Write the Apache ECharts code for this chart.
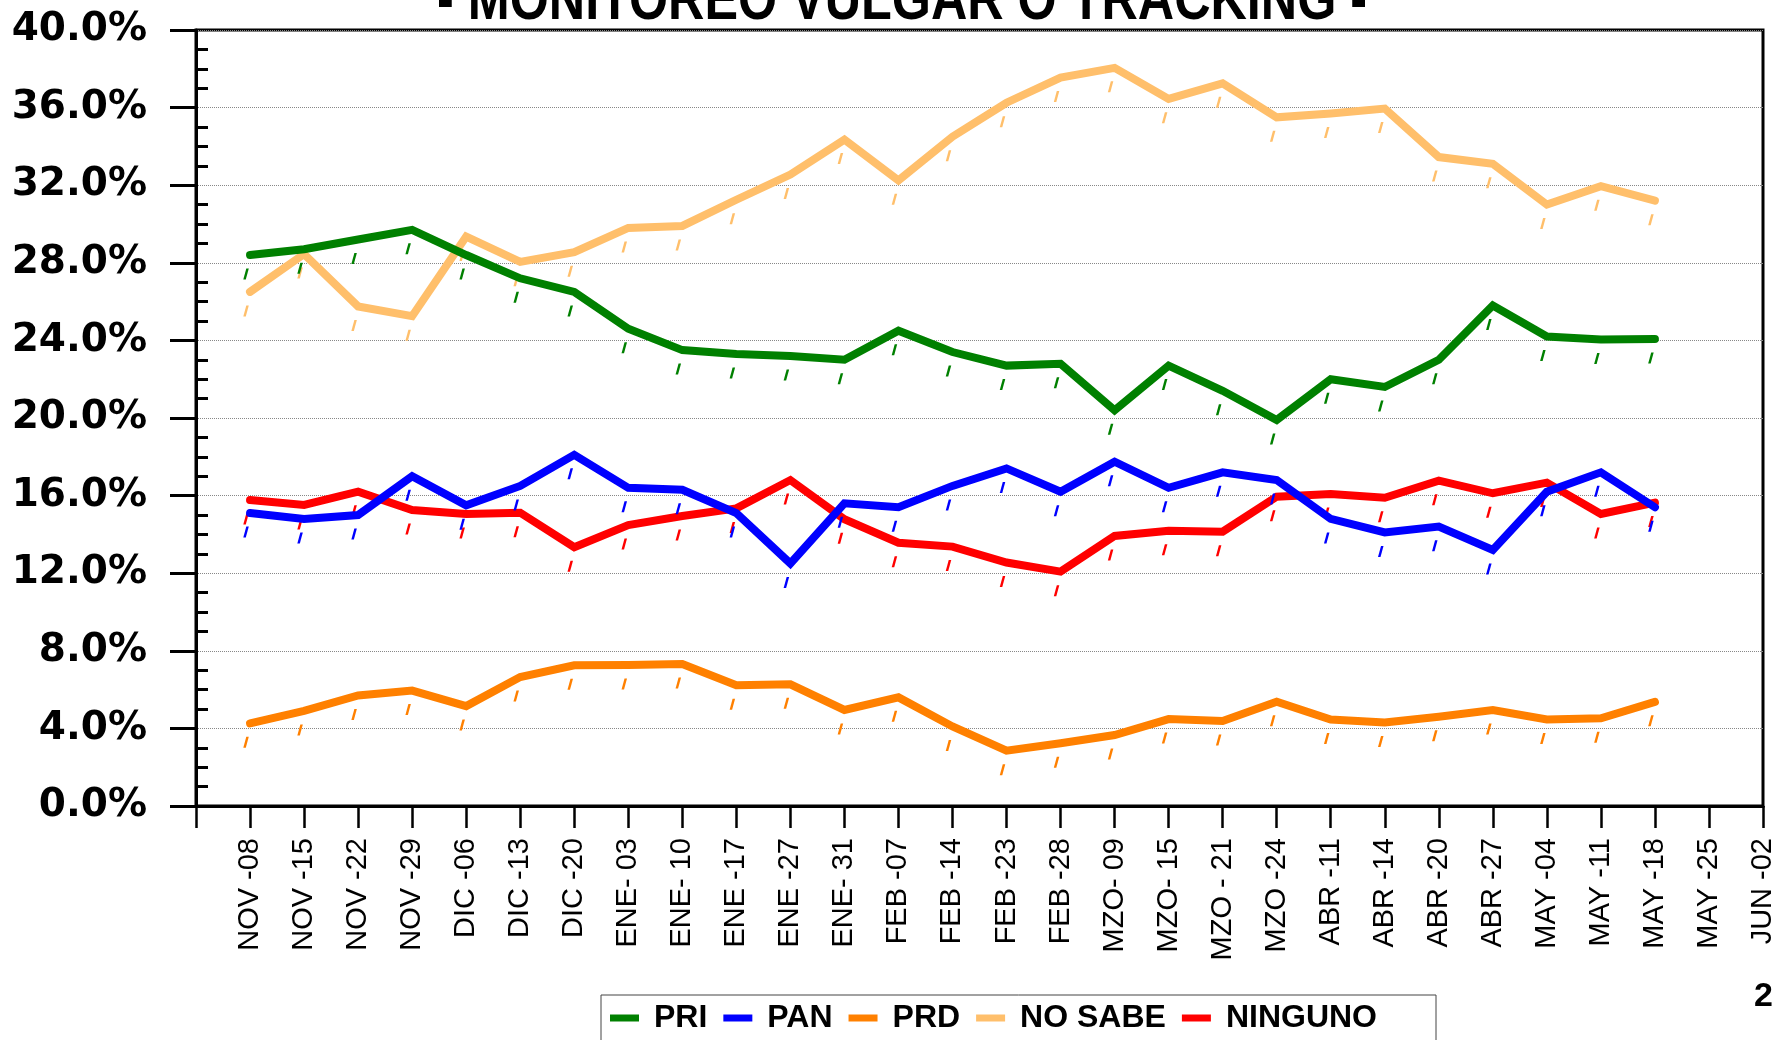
<!DOCTYPE html>
<html>
<head>
<meta charset="utf-8">
<script src="https://cdn.jsdelivr.net/npm/echarts@6/dist/echarts.min.js"></script>
<style>
  html, body { margin: 0; padding: 0; background: #fff; }
  #chart { width: 1778px; height: 1040px; }
</style>
</head>
<body>
<div id="chart"></div>
<script>
// weekly tracking dates (x axis)
const weeks = [
  'NOV -08', 'NOV -15', 'NOV -22', 'NOV -29', 'DIC -06', 'DIC -13', 'DIC -20',
  'ENE- 03', 'ENE- 10', 'ENE -17', 'ENE -27', 'ENE- 31', 'FEB -07', 'FEB -14',
  'FEB -23', 'FEB -28', 'MZO- 09', 'MZO- 15', 'MZO - 21', 'MZO -24', 'ABR -11',
  'ABR -14', 'ABR -20', 'ABR -27', 'MAY -04', 'MAY -11', 'MAY -18', 'MAY -25', 'JUN -02'
]

// percentages per week
const pri = [28.4, 28.7, 29.2, 29.7, 28.4, 27.2, 26.5, 24.6, 23.5, 23.3, 23.2, 23.0, 24.5, 23.4,
  22.7, 22.8, 20.4, 22.7, 21.4, 19.9, 22.0, 21.6, 23.0, 25.8, 24.2, 24.05, 24.07]
const pan = [15.1, 14.8, 15.0, 17.0, 15.5, 16.5, 18.1, 16.4, 16.3, 15.1, 12.5, 15.6, 15.4, 16.5,
  17.4, 16.2, 17.75, 16.4, 17.2, 16.8, 14.8, 14.1, 14.4, 13.2, 16.2, 17.2, 15.4]
const prd = [4.26, 4.9, 5.7, 5.95, 5.15, 6.65, 7.25, 7.27, 7.32, 6.23, 6.27, 4.95, 5.6, 4.1,
  2.85, 3.23, 3.66, 4.48, 4.38, 5.37, 4.46, 4.31, 4.6, 4.95, 4.46, 4.52, 5.37]
const noSabe = [26.5, 28.45, 25.75, 25.25, 29.35, 28.05, 28.55, 29.8, 29.9, 31.25, 32.55, 34.35, 32.25, 34.5,
  36.25, 37.55, 38.05, 36.45, 37.25, 35.5, 35.7, 35.95, 33.45, 33.1, 31.0, 31.95, 31.2]
const ninguno = [15.77, 15.52, 16.2, 15.26, 15.05, 15.12, 13.34, 14.48, 14.95, 15.34, 16.8, 14.78, 13.57, 13.37,
  12.55, 12.08, 13.92, 14.19, 14.14, 15.94, 16.08, 15.89, 16.77, 16.12, 16.67, 15.05, 15.64]

const parties = [
  { name: 'PRI', data: pri, color: '#008000', z: 4 },
  { name: 'PAN', data: pan, color: '#0000FF', z: 4 },
  { name: 'PRD', data: prd, color: '#FF8000', z: 3 },
  { name: 'NO SABE', data: noSabe, color: '#FFBF6B', z: 2 },
  { name: 'NINGUNO', data: ninguno, color: '#FF0000', z: 3 },
]

// small slanted dash drawn under every point
const dashMark = 'path://M3,0 L5.5,0 L2.5,11 L0,11 Z'

const chart = echarts.init(document.getElementById('chart'))

chart.setOption({
  animation: false,
  backgroundColor: '#fff',
  title: {
    text: '2',
    left: 1754,
    top: 980,
    padding: 0,
    textStyle: { fontFamily: 'Liberation Sans', fontWeight: 'bold', fontSize: 34, color: '#000' },
  },
  // condensed heading, cut off by the top edge like the original
  graphic: [
    {
      type: 'text',
      x: 437,
      y: 2,
      scaleX: 0.825,
      style: {
        text: '- MONITOREO VULGAR O TRACKING -',
        font: 'bold 61px "Liberation Sans"',
        fill: '#000',
        align: 'left',
        verticalAlign: 'middle',
      },
    },
  ],
  legend: {
    left: 601,
    top: 995,
    padding: [7, 59, 40, 9],
    borderColor: '#444',
    borderWidth: 1,
    backgroundColor: '#fff',
    icon: 'rect',
    itemWidth: 29,
    itemHeight: 7,
    itemGap: 16,
    data: parties.map(p => p.name),
    textStyle: {
      fontFamily: 'Liberation Sans',
      fontWeight: 'bold',
      fontSize: 32,
      color: '#000',
      padding: [0, 0, 0, 10],
    },
  },
  grid: {
    left: 196,
    right: 15,
    top: 30,
    bottom: 234,
    show: true,
    borderColor: '#000',
    borderWidth: 3,
  },
  xAxis: {
    type: 'category',
    boundaryGap: false,
    data: [''].concat(weeks),
    axisLine: { lineStyle: { color: '#000', width: 3 } },
    axisTick: { show: true, interval: 0, length: 22, lineStyle: { color: '#000', width: 2.5 } },
    axisLabel: {
      interval: 0,
      rotate: 90,
      margin: 32,
      fontFamily: 'Liberation Sans',
      fontSize: 29,
      color: '#000',
    },
    splitLine: { show: false },
  },
  yAxis: [
    {
      type: 'value',
      min: 0,
      max: 40,
      interval: 4,
      position: 'left',
      axisLine: { show: true, lineStyle: { color: '#000', width: 3 } },
      axisTick: { show: true, length: 26, lineStyle: { color: '#000', width: 3 } },
      axisLabel: {
        margin: 49,
        fontFamily: 'DejaVu Sans',
        fontWeight: 'bold',
        fontSize: 39,
        color: '#000',
        formatter: v => v.toFixed(1) + '%',
      },
      splitLine: { show: true, lineStyle: { color: '#888', width: 1, type: 'dotted' } },
    },
    {
      type: 'value',
      min: 0,
      max: 40,
      interval: 4,
      position: 'left',
      axisLine: { show: false },
      axisTick: { show: false, inside: true },
      minorTick: { show: true, splitNumber: 4, length: 12, lineStyle: { color: '#000', width: 3 } },
      axisLabel: { show: false },
      splitLine: { show: false },
    },
  ],
  series: parties.map(p => ({
    name: p.name,
    type: 'line',
    z: p.z,
    data: ['-'].concat(p.data),
    color: p.color,
    symbol: dashMark,
    symbolSize: [5.5, 11],
    symbolOffset: [-4, 19],
    showAllSymbol: true,
    itemStyle: { color: p.color },
    lineStyle: { color: p.color, width: 8, cap: 'round', join: 'miter' },
    emphasis: { disabled: true },
  })),
})
</script>
</body>
</html>
